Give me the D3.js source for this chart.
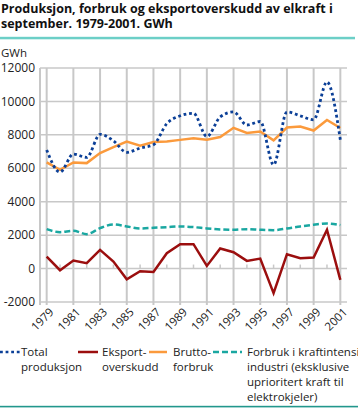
<!DOCTYPE html>
<html>
<head>
<meta charset="utf-8">
<script src="https://cdn.jsdelivr.net/npm/d3@7"></script>
<style>
  body { margin: 0; background: #fff; }
  svg { display: block; font-family: "Open Sans", "Liberation Sans", sans-serif; }
</style>
</head>
<body>
<div id="plot"></div>
<script>
// september values, GWh
const years = [1979, 1980, 1981, 1982, 1983, 1984, 1985, 1986, 1987, 1988, 1989, 1990,
               1991, 1992, 1993, 1994, 1995, 1996, 1997, 1998, 1999, 2000, 2001];
const total = [7100, 5770, 6850, 6650, 8030, 7650, 6950, 7210, 7410, 8670, 9140, 9290,
               7900, 9070, 9370, 8590, 8800, 6210, 9370, 9140, 8900, 11160, 7710];
const brutto = [6350, 5910, 6350, 6310, 6910, 7270, 7600, 7350, 7570, 7600, 7700, 7800,
                7710, 7870, 8420, 8110, 8200, 7670, 8440, 8500, 8260, 8890, 8410];
const eksport = [720, -100, 480, 320, 1120, 420, -640, -160, -200, 920, 1460, 1460,
                 160, 1200, 980, 460, 600, -1470, 860, 620, 660, 2320, -680];
const industri = [2360, 2180, 2260, 2060, 2420, 2640, 2520, 2400, 2440, 2480, 2520, 2480,
                  2400, 2340, 2320, 2360, 2320, 2300, 2400, 2520, 2620, 2700, 2600];
const yTicks = [-2000, 0, 2000, 4000, 6000, 8000, 10000, 12000];
const xLabels = [1979, 1981, 1983, 1985, 1987, 1989, 1991, 1993, 1995, 1997, 1999, 2001];

const W = 358, H = 408;
const svg = d3.select("#plot").append("svg")
    .attr("width", W)
    .attr("height", H);

// title
const title = svg.append("text")
    .attr("x", 1)
    .attr("y", 12.5)
    .attr("font-size", "12.5px")
    .attr("font-weight", "bold")
    .attr("fill", "#111");
title.append("tspan").attr("x", 1).text("Produksjon, forbruk og eksportoverskudd av elkraft i");
title.append("tspan").attr("x", 1).attr("dy", 15).text("september. 1979-2001. GWh");

svg.append("rect")
    .attr("x", 0).attr("y", 36.8)
    .attr("width", 355).attr("height", 2.5)
    .attr("fill", "#6ccfc7");

svg.append("rect")
    .attr("x", 0).attr("y", 405.8)
    .attr("width", 358).attr("height", 1.6)
    .attr("fill", "#22978c");

const x = d3.scaleLinear().domain([1978.5, 2001.5]).range([40, 347]);
const y = d3.scaleLinear().domain([-2000, 12000]).range([302, 68]);

const grid = svg.append("g");
grid.selectAll("line.h")
    .data(yTicks)
    .enter().append("line")
    .attr("x1", 40).attr("x2", 347)
    .attr("y1", d => y(d)).attr("y2", d => y(d))
    .attr("stroke", "#c8c8c8")
    .attr("stroke-width", 1.5);

grid.selectAll("line.v")
    .data(xLabels)
    .enter().append("line")
    .attr("x1", d => x(d)).attr("x2", d => x(d))
    .attr("y1", y(12000)).attr("y2", y(-2000) + 3)
    .attr("stroke", "#c8c8c8")
    .attr("stroke-width", 2);

// small ticks on the zero line
grid.selectAll("line.t")
    .data(years.filter(d => xLabels.indexOf(d) < 0))
    .enter().append("line")
    .attr("x1", d => x(d)).attr("x2", d => x(d))
    .attr("y1", y(0) - 4).attr("y2", y(0))
    .attr("stroke", "#c8c8c8")
    .attr("stroke-width", 1.5);

grid.append("line")
    .attr("x1", 40).attr("x2", 40)
    .attr("y1", y(12000)).attr("y2", y(-2000) + 3)
    .attr("stroke", "#c8c8c8")
    .attr("stroke-width", 2);

// y labels
svg.selectAll("text.ylab")
    .data(yTicks)
    .enter().append("text")
    .attr("x", 35)
    .attr("y", d => y(d))
    .attr("dy", "0.35em")
    .attr("text-anchor", "end")
    .attr("font-size", "12px")
    .attr("fill", "#222")
    .text(d => d);

svg.append("text")
    .attr("x", 1)
    .attr("y", 57)
    .attr("font-size", "11.5px")
    .attr("fill", "#222")
    .text("GWh");

// x labels
svg.selectAll("text.xlab")
    .data(xLabels)
    .enter().append("text")
    .attr("transform", d => `translate(${x(d) + 5},${y(-2000) + 8}) rotate(-45)`)
    .attr("text-anchor", "end")
    .attr("dy", "0.35em")
    .attr("font-size", "11.5px")
    .attr("fill", "#222")
    .text(d => d);

// lines
const line = (vals, curve) => d3.line()
    .x((d, i) => x(years[i]))
    .y(d => y(d))
    .curve(curve)(vals);

svg.append("path")
    .attr("d", line(industri, d3.curveMonotoneX))
    .attr("fill", "none")
    .attr("stroke", "#1aa7a1")
    .attr("stroke-width", 2.5)
    .attr("stroke-dasharray", "6,3");

svg.append("path")
    .attr("d", line(eksport, d3.curveLinear))
    .attr("fill", "none")
    .attr("stroke", "#9b0e0e")
    .attr("stroke-width", 2.5);

svg.append("path")
    .attr("d", line(brutto, d3.curveLinear))
    .attr("fill", "none")
    .attr("stroke", "#fb9a3c")
    .attr("stroke-width", 2.5);

svg.append("path")
    .attr("d", line(total, d3.curveMonotoneX))
    .attr("fill", "none")
    .attr("stroke", "#0b3f97")
    .attr("stroke-width", 2.8)
    .attr("stroke-dasharray", "2.8,2.8");

// legend
const legend = [
  {x0: 0, x1: 20, tx: 21, color: "#0b3f97", dash: "2.8,2.8", lines: ["Total", "produksjon"]},
  {x0: 78, x1: 98, tx: 102, color: "#9b0e0e", dash: null, lines: ["Eksport-", "overskudd"]},
  {x0: 149, x1: 167, tx: 173, color: "#fb9a3c", dash: null, lines: ["Brutto-", "forbruk"]},
  {x0: 213, x1: 242, tx: 247, color: "#1aa7a1", dash: "6,3",
   lines: ["Forbruk i kraftintensiv", "industri (eksklusive", "uprioritert kraft til", "elektrokjeler)"]}
];
const lg = svg.append("g");
legend.forEach(d => {
  lg.append("line")
    .attr("x1", d.x0).attr("x2", d.x1)
    .attr("y1", 352).attr("y2", 352)
    .attr("stroke", d.color)
    .attr("stroke-width", 2.5)
    .attr("stroke-dasharray", d.dash);
  d.lines.forEach((s, i) => {
    lg.append("text")
      .attr("x", d.tx)
      .attr("y", 356 + i * 15)
      .attr("font-size", "11.5px")
      .attr("fill", "#222")
      .text(s);
  });
});
</script>
</body>
</html>
